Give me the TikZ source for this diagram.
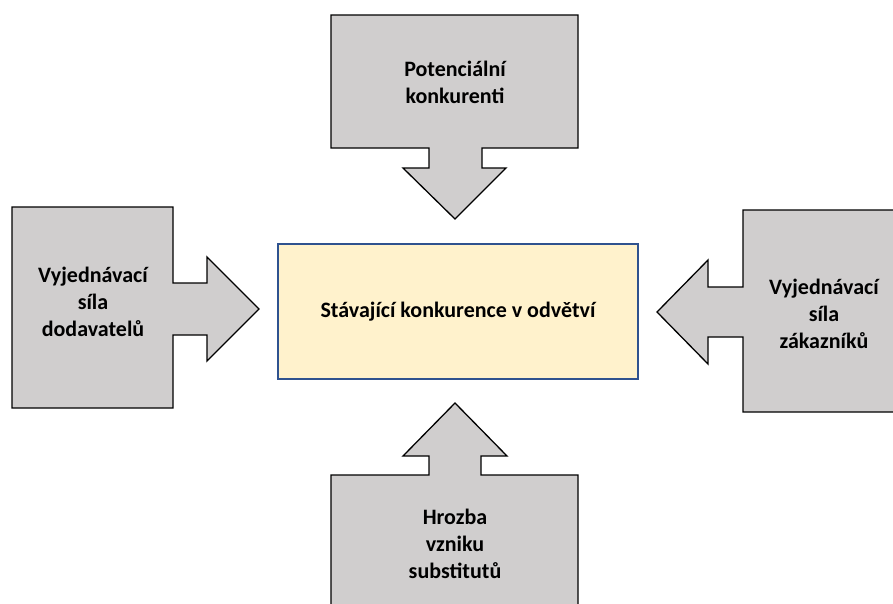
\documentclass[tikz,border=0pt]{standalone}
\usepackage{fontspec}
\setmainfont{Carlito}
\definecolor{forcegray}{RGB}{208,206,206}
\definecolor{rivalfill}{RGB}{255,242,204}
\definecolor{rivalline}{RGB}{47,82,143}

\begin{document}
\begin{tikzpicture}
[x=1pt, y=-1pt,
 every node/.style={inner sep=0pt, align=center, font=\bfseries\fontsize{22}{27}\selectfont},
 force/.style={fill=forcegray, draw=black, line width=1.3pt, line join=miter}]
\clip (0,0) rectangle (893,603);
\useasboundingbox (0,0) rectangle (893,603);
% potencialni konkurenti (nahore)
\draw [force] (331,15) -- (578,15) -- (578,148) -- (482,148) -- (482,168) -- (506,168) -- (455,219) -- (403,168) -- (429,168) -- (429,148) -- (331,148) -- cycle;
% dodavatele (vlevo)
\draw [force] (12,207) -- (173,207) -- (173,283) -- (207,283) -- (207,257) -- (259,309) -- (207,361) -- (207,335) -- (173,335) -- (173,408) -- (12,408) -- cycle;
% zakaznici (vpravo)
\draw [force] (743,210) -- (900,210) -- (900,412) -- (743,412) -- (743,337) -- (708,337) -- (708,364) -- (657,312) -- (708,260) -- (708,287) -- (743,287) -- cycle;
% substituty (dole)
\draw [force] (331,475) -- (429,475) -- (429,456) -- (403,456) -- (455,403) -- (507,456) -- (481,456) -- (481,475) -- (578,475) -- (578,610) -- (331,610) -- cycle;
\node (rival) [rectangle, minimum width=360pt, minimum height=135pt, fill=rivalfill, draw=rivalline, line width=1.2pt] at (458,311.5) {Stávající konkurence v odvětví};
\node (entrants) at (455,82) {Potenciální\\konkurenti};
\node (suppliers) at (93,302) {Vyjednávací\\síla\\dodavatelů};
\node (buyers) at (824,314) {Vyjednávací\\síla\\zákazníků};
\node (substitutes) at (455,544) {Hrozba\\vzniku\\substitutů};
\end{tikzpicture}
\end{document}
